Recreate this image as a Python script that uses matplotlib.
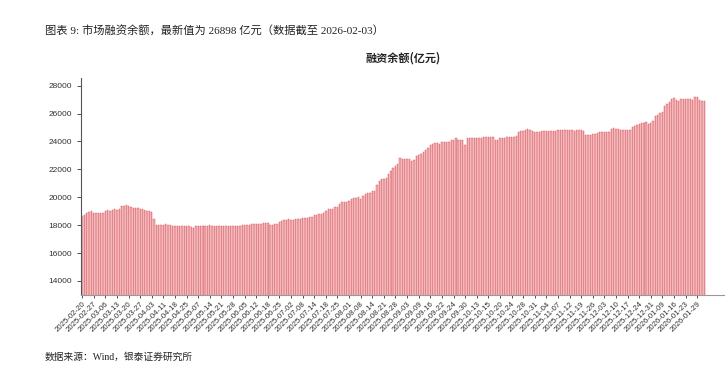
import numpy as np
import matplotlib
matplotlib.use("Agg")
import matplotlib.pyplot as plt

plt.rcParams['font.family'] = ['Liberation Sans', 'Noto Sans CJK SC', 'DejaVu Sans']

# 融资余额 (亿元), daily, 2025-02-20 .. 2026-02-03
balance = [
    18680, 18750, 18870, 18950, 19020, 18860, 18850, 18850, 18860, 18870,
    19000, 19110, 19000, 19110, 19180, 19110, 19160, 19350, 19400, 19410,
    19400, 19280, 19210, 19200, 19210, 19180, 19150, 19110, 19050, 19000,
    18950, 18440, 18030, 17990, 17980, 18000, 18060, 18040, 18010, 17970,
    17960, 17970, 17950, 17960, 17920, 17910, 17920, 17900, 17770, 17910,
    17960, 17970, 17960, 17970, 17960, 17980, 17970, 17960, 17970, 17950,
    17960, 17910, 17960, 17970, 17960, 17950, 17970, 17910, 17920, 17990,
    17980, 17990, 18000, 18060, 18050, 18060, 18080, 18100, 18130, 18140,
    18130, 18010, 18020, 18060, 18100, 18230, 18300, 18390, 18400, 18410,
    18400, 18390, 18420, 18410, 18420, 18510, 18520, 18510, 18600, 18610,
    18700, 18710, 18820, 18830, 18840, 18990, 19150, 19160, 19170, 19300,
    19310, 19500, 19660, 19670, 19660, 19760, 19880, 19970, 19980, 19990,
    19890, 20070, 20220, 20310, 20320, 20450, 20460, 20870, 21130, 21320,
    21330, 21400, 21680, 21880, 22070, 22240, 22400, 22790, 22770, 22760,
    22720, 22710, 22620, 22690, 22960, 23000, 23080, 23240, 23390, 23530,
    23720, 23820, 23870, 23860, 23800, 23960, 23990, 23980, 23990, 24110,
    24090, 24280, 24100, 24110, 24100, 23770, 24280, 24250, 24260, 24250,
    24260, 24280, 24270, 24300, 24310, 24300, 24310, 24350, 24110, 24100,
    24250, 24260, 24270, 24340, 24350, 24350, 24340, 24360, 24640, 24730,
    24780, 24790, 24880, 24840, 24750, 24690, 24680, 24690, 24760, 24750,
    24760, 24750, 24760, 24750, 24780, 24800, 24830, 24840, 24830, 24830,
    24840, 24830, 24760, 24810, 24820, 24790, 24760, 24450, 24440, 24490,
    24520, 24560, 24610, 24640, 24690, 24680, 24690, 24660, 24880, 24950,
    24920, 24870, 24840, 24830, 24840, 24830, 24840, 25000, 25080, 25160,
    25280, 25290, 25320, 25360, 25240, 25350, 25480, 25790, 25900, 26030,
    26130, 26560, 26680, 26850, 27040, 27090, 26990, 26920, 27040, 27030,
    27050, 27040, 27030, 26970, 27210, 27180, 26970, 26920, 26898,
]

tick_labels = [
    "2025-02-20", "2025-02-27", "2025-03-06", "2025-03-13", "2025-03-20",
    "2025-03-27", "2025-04-03", "2025-04-11", "2025-04-18", "2025-04-25",
    "2025-05-07", "2025-05-14", "2025-05-21", "2025-05-28", "2025-06-05",
    "2025-06-12", "2025-06-18", "2025-06-25", "2025-07-02", "2025-07-08",
    "2025-07-14", "2025-07-18", "2025-07-25", "2025-08-01", "2025-08-08",
    "2025-08-14", "2025-08-21", "2025-08-28", "2025-09-03", "2025-09-09",
    "2025-09-16", "2025-09-22", "2025-09-24", "2025-09-30", "2025-10-13",
    "2025-10-15", "2025-10-20", "2025-10-24", "2025-10-28", "2025-10-31",
    "2025-11-04", "2025-11-07", "2025-11-12", "2025-11-19", "2025-11-26",
    "2025-12-03", "2025-12-10", "2025-12-17", "2025-12-24", "2025-12-31",
    "2026-01-09", "2026-01-16", "2026-01-23", "2026-01-29",
]
tick_step = 5

fig = plt.figure(figsize=(7.27, 3.71), dpi=100)
ax = fig.add_axes([0.1114, 0.205, 0.885, 0.585])

x = np.arange(len(balance))
ax.bar(x, balance, width=0.58, color='#efb4b6', edgecolor='#d9454d',
       linewidth=0.3)

ax.set_ylim(13000, 28550)
ax.set_xlim(-0.5, 276.7)
ax.set_yticks(np.arange(14000, 28001, 2000))
ax.tick_params(axis='y', labelsize=6, colors='#333333', length=3, width=0.6)

ticks = np.arange(len(tick_labels)) * tick_step
ax.set_xticks(ticks)
ax.set_xticklabels(tick_labels, rotation=45, ha='right', rotation_mode='anchor',
                   fontsize=5.6, color='#333333')
ax.tick_params(axis='x', length=2.5, width=0.6, colors='#333333', pad=1.5)

for s in ['top', 'right']:
    ax.spines[s].set_visible(False)
ax.spines['left'].set_color('#555555')
ax.spines['bottom'].set_color('#999999')
ax.spines['left'].set_linewidth(0.8)
ax.spines['bottom'].set_linewidth(0.8)

ax.set_title('融资余额(亿元)', fontsize=8, fontweight='bold', color='#222222',
             pad=12, family=['Noto Sans CJK SC', 'DejaVu Sans'])

fig.text(0.062, 0.916, '图表 9: 市场融资余额，最新值为 26898 亿元（数据截至 2026-02-03）',
         fontsize=8.1, color='#222222', va='center',
         family=['Liberation Serif', 'Noto Sans CJK SC'])
fig.text(0.062, 0.038, '数据来源：Wind，银泰证券研究所', fontsize=7, color='#222222',
         va='center', family=['Liberation Serif', 'Noto Sans CJK SC'])

fig.savefig('out.png', dpi=100)
